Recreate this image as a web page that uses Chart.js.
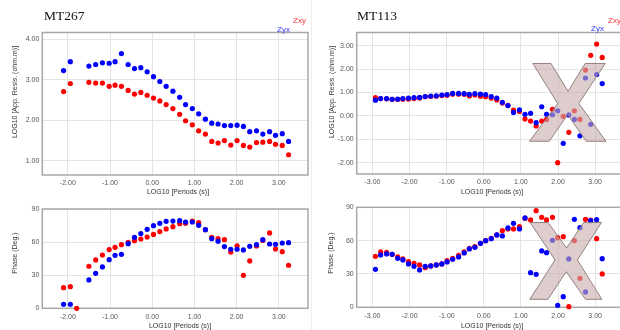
<!DOCTYPE html>
<html><head><meta charset="utf-8">
<script src="https://cdn.jsdelivr.net/npm/chart.js@4/dist/chart.umd.min.js"></script>
<style>
html,body{margin:0;padding:0;background:#fff;width:620px;height:330px;overflow:hidden;position:relative;}
canvas{position:absolute;}
.t{position:absolute;font-family:"Liberation Serif","Times New Roman",serif;font-size:13.5px;color:#111;line-height:14px;white-space:nowrap;}
.lg{position:absolute;font-family:"Liberation Sans",Arial,sans-serif;font-size:8px;line-height:9px;white-space:nowrap;}
.ax{position:absolute;font-family:"Liberation Sans",Arial,sans-serif;font-size:7px;line-height:8px;color:#333;white-space:nowrap;transform:translate(-50%,-50%);}
.ay{position:absolute;font-family:"Liberation Sans",Arial,sans-serif;font-size:7px;line-height:8px;color:#333;white-space:nowrap;transform:translate(-50%,-50%) rotate(-90deg);}
.sep{position:absolute;left:311px;top:0;width:1px;height:330px;background:#ececec;}
</style></head><body>
<div class="sep"></div>
<canvas id="cA" width="312" height="200" style="left:0;top:0"></canvas>
<canvas id="cC" width="312" height="135" style="left:0;top:195px"></canvas>
<canvas id="cB" width="315" height="200" style="left:312px;top:0"></canvas>
<canvas id="cD" width="315" height="135" style="left:312px;top:195px"></canvas>

<div class="t" style="left:44px;top:9px">MT267</div>
<div class="t" style="left:357px;top:9px">MT113</div>
<div class="lg" style="left:293px;top:16px;color:#ff3333">Zxy</div>
<div class="lg" style="left:277px;top:25px;color:#3333ff">Zyx</div>
<div class="lg" style="left:608px;top:16px;color:#ff3333">Zxy</div>
<div class="lg" style="left:591px;top:24px;color:#3333ff">Zyx</div>

<div class="ay" style="left:15px;top:92px">LOG10 [App. Resis. (ohm.m)]</div>
<div class="ay" style="left:331.5px;top:92px">LOG10 [App. Resis. (ohm.m)]</div>
<div class="ay" style="left:15px;top:253px">Phase (Deg.)</div>
<div class="ay" style="left:331px;top:252.5px">Phase (Deg.)</div>
<div class="ax" style="left:178px;top:192.3px">LOG10 [Periods (s)]</div>
<div class="ax" style="left:492px;top:191.7px">LOG10 [Periods (s)]</div>
<div class="ax" style="left:180px;top:326px">LOG10 [Periods (s)]</div>
<div class="ax" style="left:492px;top:326px">LOG10 [Periods (s)]</div>

<script>
// ---------- MT267 ----------
const periodsMT267 = [-2.10, -1.94, -1.79, -1.50, -1.34, -1.18, -1.02, -0.88, -0.73, -0.57, -0.42, -0.27, -0.12, 0.03, 0.18, 0.33, 0.49, 0.65, 0.79, 0.95, 1.10, 1.26, 1.41, 1.56, 1.71, 1.86, 2.01, 2.16, 2.31, 2.47, 2.62, 2.78, 2.92, 3.08, 3.23];
const rhoXY_MT267 = [2.71, 2.91, null, 2.94, 2.92, 2.92, 2.84, 2.87, 2.84, 2.74, 2.65, 2.69, 2.62, 2.55, 2.48, 2.39, 2.29, 2.15, 1.99, 1.89, 1.74, 1.66, 1.48, 1.44, 1.50, 1.39, 1.50, 1.38, 1.34, 1.45, 1.46, 1.48, 1.41, 1.38, 1.15];
const rhoYX_MT267 = [3.23, 3.45, null, 3.34, 3.38, 3.42, 3.41, 3.45, 3.65, 3.38, 3.28, 3.30, 3.20, 3.08, 2.96, 2.84, 2.72, 2.57, 2.39, 2.29, 2.16, 2.03, 1.93, 1.91, 1.87, 1.87, 1.88, 1.85, 1.72, 1.74, 1.66, 1.72, 1.63, 1.67, 1.48];
const phaseXY_MT267 = [18.7, 19.6, 0, 38.1, 43.8, 48.3, 53.2, 55.3, 57.7, 59.8, 61.3, 62.8, 64.6, 67.0, 69.5, 71.9, 74.0, 76.7, 77.0, 79.1, 77.6, 71.3, 64.3, 63.1, 62.2, 51.0, 56.5, 29.9, 42.9, 56.5, 61.5, 68.3, 53.8, 51.3, 39.0];
const phaseYX_MT267 = [3.6, 3.6, null, 25.7, 31.7, 37.5, 44.1, 48.0, 48.9, 58.6, 64.3, 67.7, 71.6, 74.9, 77.0, 78.8, 79.1, 79.4, 78.2, 78.2, 75.2, 71.3, 63.1, 60.7, 55.9, 53.5, 53.5, 52.9, 56.2, 57.7, 62.2, 58.3, 58.0, 59.2, 59.5];

// ---------- MT113 ----------
const periodsMT113 = [-2.92, -2.78, -2.62, -2.47, -2.32, -2.18, -2.03, -1.88, -1.73, -1.58, -1.43, -1.28, -1.13, -0.99, -0.84, -0.68, -0.53, -0.39, -0.24, -0.09, 0.05, 0.20, 0.35, 0.50, 0.65, 0.80, 0.96, 1.11, 1.26, 1.41, 1.56, 1.69, 1.85, 1.99, 2.14, 2.29, 2.44, 2.59, 2.74, 2.88, 3.04, 3.19];
const rhoXY_MT113 = [0.78, 0.74, 0.73, 0.71, 0.70, 0.71, 0.72, 0.74, 0.76, 0.82, 0.83, 0.84, 0.87, 0.88, 0.93, 0.93, 0.92, 0.85, 0.89, 0.84, 0.82, 0.76, 0.68, 0.55, 0.45, 0.25, 0.19, -0.13, -0.22, -0.43, -0.22, -0.15, 0.28, -2.00, -0.02, -0.70, 0.22, -0.15, 1.96, 2.59, 3.07, 2.50];
const rhoYX_MT113 = [0.67, 0.74, 0.74, 0.71, 0.72, 0.74, 0.76, 0.78, 0.79, 0.83, 0.85, 0.86, 0.89, 0.91, 0.96, 0.96, 0.95, 0.92, 0.95, 0.93, 0.91, 0.83, 0.76, 0.58, 0.44, 0.15, 0.26, 0.07, 0.11, -0.29, 0.39, 0.07, 0.05, 0.22, -1.17, 0.04, -0.15, -0.85, 1.62, -0.36, 1.77, 1.38];
const phaseXY_MT113 = [45.9, 49.8, 49.5, 47.7, 45.3, 43.5, 41.1, 39.6, 38.1, 35.7, 37.2, 38.1, 39.0, 42.0, 44.1, 46.8, 49.8, 53.1, 54.6, 57.6, 60.0, 62.1, 65.1, 69.0, 70.5, 70.5, 72.6, 80.0, 78.6, 87.0, 81.0, 78.6, 81.0, 62.7, 63.6, 0.6, 60.0, 26.1, 79.2, 78.5, 61.8, 30.0];
const phaseYX_MT113 = [34.2, 47.1, 48.0, 47.7, 44.1, 42.6, 39.0, 36.9, 33.6, 36.9, 37.2, 38.1, 39.0, 40.8, 43.2, 45.3, 48.9, 52.5, 54.0, 57.6, 60.0, 61.8, 65.1, 64.2, 71.4, 75.6, 70.5, 80.4, 31.2, 29.7, 50.7, 49.2, 60.3, 1.8, 9.6, 43.5, 79.2, 71.7, 13.8, 78.0, 78.9, 43.8];

// "X" rejection mark annotation for MT113, in data units
const xMarkRhoX = [1.32, 1.81, 2.27, 2.73, 3.27, 2.56, 3.29, 2.76, 2.26, 1.76, 1.23, 1.99];
const xMarkRhoY = [2.24, 2.24, 1.05, 2.24, 2.24, 0.53, -1.085, -1.085, 0.05, -1.085, -1.085, 0.53];
const xMarkPhX = [1.25, 1.73, 2.23, 2.69, 3.17, 2.52, 3.18, 2.74, 2.22, 1.73, 1.24, 1.92];
const xMarkPhY = [76.3, 76.3, 53.4, 76.3, 76.3, 42.6, 7.2, 7.2, 32.0, 7.2, 7.2, 42.6];

const RED = '#ff0000', BLUE = '#0000ff';
const tickFont = { family: '"Liberation Sans", Arial, sans-serif', size: 7 };

function toPts(xs, ys) { return xs.map((x, i) => ({ x: x, y: ys[i] })).filter(p => p.y !== null); }

const framePlugin = {
  id: 'frame',
  beforeDatasetsDraw(chart) {
    const { ctx, chartArea: a } = chart;
    ctx.save();
    ctx.strokeStyle = '#a8a8a8';
    ctx.lineWidth = 1.5;
    ctx.strokeRect(a.left, a.top, a.right - a.left, a.bottom - a.top);
    ctx.restore();
  }
};

function xMarkPlugin(sx, sy) {
  return {
    id: 'xmark',
    afterDatasetsDraw(chart) {
      const xs = chart.scales.x, ys = chart.scales.y, ctx = chart.ctx;
      ctx.save();
      ctx.beginPath();
      sx.forEach((v, i) => {
        const px = xs.getPixelForValue(v), py = ys.getPixelForValue(sy[i]);
        if (i === 0) ctx.moveTo(px, py); else ctx.lineTo(px, py);
      });
      ctx.closePath();
      ctx.fillStyle = 'rgba(200,172,172,0.6)';
      ctx.fill();
      ctx.strokeStyle = 'rgba(140,118,118,0.9)';
      ctx.lineWidth = 1;
      ctx.stroke();
      ctx.restore();
    }
  };
}

function makePanel(id, p) {
  const plugins = [framePlugin];
  if (p.mark) plugins.push(xMarkPlugin(p.mark[0], p.mark[1]));
  return new Chart(document.getElementById(id), {
    type: 'scatter',
    data: {
      datasets: [
        { label: 'Zyx', data: toPts(p.x, p.blue), pointBackgroundColor: BLUE, pointBorderWidth: 0, pointRadius: 2.6, showLine: false, clip: false },
        { label: 'Zxy', data: toPts(p.x, p.red), pointBackgroundColor: RED, pointBorderWidth: 0, pointRadius: 2.6, showLine: false, clip: false }
      ]
    },
    options: {
      responsive: false, animation: false, devicePixelRatio: 1,
      events: [],
      layout: { padding: p.pad },
      plugins: { legend: { display: false }, tooltip: { enabled: false } },
      scales: {
        x: {
          type: 'linear', min: p.xmin, max: p.xmax,
          ticks: { stepSize: 1, includeBounds: false, autoSkip: false, maxRotation: 0, padding: p.xpad, font: tickFont, color: '#555', callback: v => Number(v).toFixed(2) },
          grid: { color: '#e4e4e4', drawTicks: false },
          border: { display: false },
          afterFit: s => { s.height = p.xh; }
        },
        y: {
          type: 'linear', min: p.ymin, max: p.ymax,
          ticks: { stepSize: p.ystep, includeBounds: false, autoSkip: false, padding: 3, font: tickFont, color: '#555', callback: p.ylab },
          grid: { color: '#e4e4e4', drawTicks: false },
          border: { display: false },
          afterFit: s => { s.width = p.yw; }
        }
      }
    },
    plugins: plugins
  });
}

const fmt2 = v => Number(v).toFixed(2);
const fmt0 = v => String(Math.round(v));

makePanel('cA', { x: periodsMT267, red: rhoXY_MT267, blue: rhoYX_MT267, xmin: -2.604, xmax: 3.69, ymin: 0.65, ymax: 4.17, ystep: 1, ylab: fmt2,
  pad: { left: 0, right: 2, top: 32.5, bottom: 0 }, yw: 42.3, xh: 25, xpad: 3.5 });
makePanel('cC', { x: periodsMT267, red: phaseXY_MT267, blue: phaseYX_MT267, xmin: -2.604, xmax: 3.69, ymin: 0, ymax: 90, ystep: 30, ylab: fmt0,
  pad: { left: 0, right: 2, top: 14, bottom: 0 }, yw: 42.3, xh: 21.7, xpad: 4.2 });
makePanel('cB', { x: periodsMT113, red: rhoXY_MT113, blue: rhoYX_MT113, xmin: -3.425, xmax: 3.75, ymin: -2.483, ymax: 3.564, ystep: 1, ylab: fmt2,
  pad: { left: 0, right: 0, top: 32.5, bottom: 0 }, yw: 44.7, xh: 26, xpad: 3.5, mark: [xMarkRhoX, xMarkRhoY] });
makePanel('cD', { x: periodsMT113, red: phaseXY_MT113, blue: phaseYX_MT113, xmin: -3.425, xmax: 3.75, ymin: 0, ymax: 90, ystep: 30, ylab: fmt0,
  pad: { left: 0, right: 0, top: 12.3, bottom: 0 }, yw: 44.7, xh: 22.7, xpad: 4.8, mark: [xMarkPhX, xMarkPhY] });
</script>
</body></html>
